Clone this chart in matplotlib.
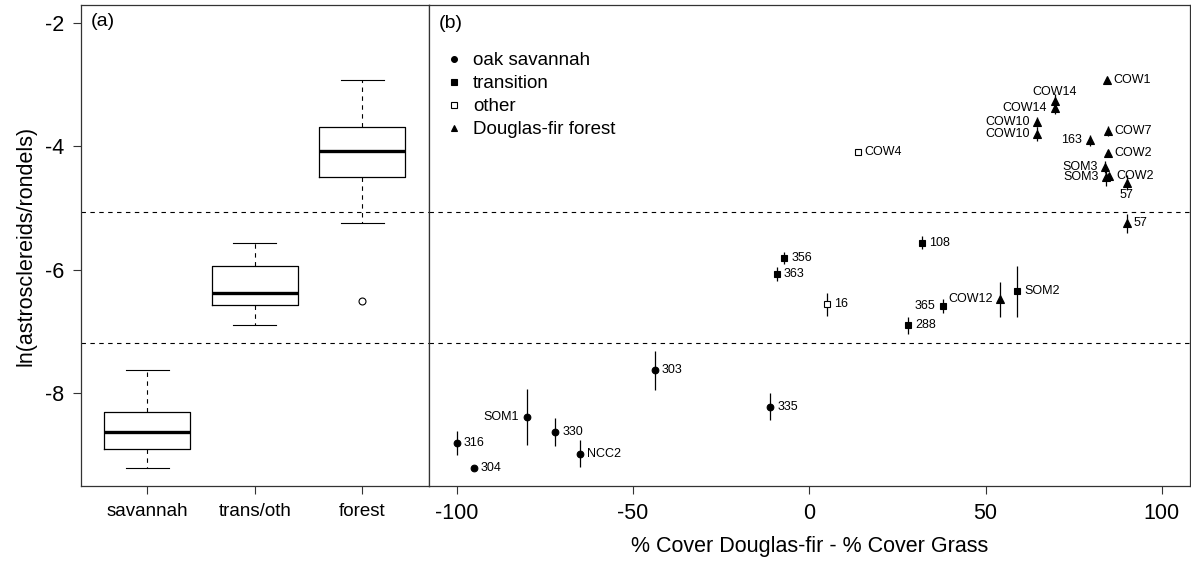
import numpy as np
import matplotlib
matplotlib.use('Agg')
import matplotlib.pyplot as plt
from matplotlib.lines import Line2D

plt.rcParams['font.family'] = ['Liberation Sans', 'DejaVu Sans']

# ---- panel (a): box summaries per vegetation class
groups = ['savannah', 'trans/oth', 'forest']
whislo = [-9.22, -6.89, -5.24]
q1 = [-8.90, -6.57, -4.50]
med = [-8.63, -6.37, -4.07]
q3 = [-8.30, -5.94, -3.69]
whishi = [-7.62, -5.56, -2.93]
fliers = [[], [], [-6.50]]

# class cut-offs (dashed lines)
cut_hi = -5.06
cut_lo = -7.18

# ---- panel (b): site means +/- error
site = ['316', '304', 'SOM1', '330', 'NCC2', '303', '335',
        '356', '363', '108', '288', '365', 'SOM2',
        '16', 'COW4',
        'COW12', 'COW1', 'COW14', 'COW14', 'COW10', 'COW10', '163', 'COW7',
        'COW2', 'SOM3', 'SOM3', 'COW2', '57', '57']
cover = [-100.1, -95.2, -80.1, -72.1, -65.0, -43.9, -11.1,
         -7.1, -9.2, 31.9, 28.1, 38.0, 59.0,
         5.0, 13.7,
         54.1, 84.4, 69.7, 69.7, 64.6, 64.6, 79.6, 84.6,
         84.6, 84.0, 84.3, 85.0, 90.0, 90.0]
ratio = [-8.81, -9.22, -8.39, -8.63, -8.98, -7.63, -8.22,
         -5.81, -6.07, -5.56, -6.90, -6.59, -6.35,
         -6.56, -4.09,
         -6.48, -2.93, -3.26, -3.38, -3.60, -3.80, -3.90, -3.75,
         -4.11, -4.34, -4.50, -4.48, -4.59, -5.25]
err = [0.20, 0.0, 0.45, 0.23, 0.22, 0.32, 0.22,
       0.10, 0.11, 0.10, 0.14, 0.11, 0.41,
       0.19, 0.05,
       0.28, 0.03, 0.10, 0.10, 0.08, 0.12, 0.09, 0.08,
       0.05, 0.10, 0.15, 0.05, 0.12, 0.16]
veg = ['sav'] * 7 + ['trans'] * 6 + ['other'] * 2 + ['forest'] * 14
lab_pos = ['r', 'r', 'l', 'r', 'r', 'r', 'r',
           'r', 'r', 'r', 'r', 'l', 'r',
           'r', 'r',
           'l', 'r', 'a', 'l', 'l', 'l', 'l', 'r',
           'r', 'l', 'l', 'r', 'b', 'r']

veg_names = {'sav': 'oak savannah', 'trans': 'transition',
             'other': 'other', 'forest': 'Douglas-fir forest'}
veg_style = {'sav': dict(marker='o', mfc='black', ms=4.8),
             'trans': dict(marker='s', mfc='black', ms=4.8),
             'other': dict(marker='s', mfc='white', ms=4.8),
             'forest': dict(marker='^', mfc='black', ms=5.6)}

W, H = 1191, 563
fig = plt.figure(figsize=(W / 100, H / 100), dpi=100)
bot = 1 - 486.3 / H
hgt = 481.3 / H
ax1 = fig.add_axes([80.7 / W, bot, 348 / W, hgt])
ax2 = fig.add_axes([428.7 / W, bot, (1190 - 428.7) / W, hgt])

ylim = (-9.51, -1.71)
edge = '#333333'

# ---- (a)
stats = []
for i in range(3):
    stats.append(dict(whislo=whislo[i], q1=q1[i], med=med[i], q3=q3[i],
                      whishi=whishi[i], fliers=fliers[i]))
ax1.bxp(stats, positions=[1, 2, 3], widths=0.8, capwidths=0.4,
        boxprops=dict(color='black', lw=0.9),
        medianprops=dict(color='black', lw=2.4),
        whiskerprops=dict(color='black', lw=0.8, linestyle=(0, (4, 4))),
        capprops=dict(color='black', lw=0.8),
        flierprops=dict(marker='o', mfc='none', mec='black', ms=5, mew=0.8))
ax1.set_xlim(0.38, 3.62)
ax1.set_ylim(*ylim)
ax1.set_xticks([1, 2, 3])
ax1.set_xticklabels(groups, fontsize=13.5)
ax1.set_yticks([-2, -4, -6, -8])
ax1.set_yticklabels(['-2', '-4', '-6', '-8'], fontsize=15.5)
ax1.tick_params(axis='x', length=6, width=0.8, color=edge, pad=6)
ax1.tick_params(axis='y', length=6, width=0.8, color=edge, pad=6)
ax1.set_ylabel('ln(astrosclereids/rondels)', fontsize=15.5, labelpad=6)
ax1.text(0.029, 0.965, '(a)', transform=ax1.transAxes, fontsize=14,
         ha='left', va='center')

# ---- (b)
cover = np.array(cover)
ratio = np.array(ratio)
err = np.array(err)
veg = np.array(veg)
for key in ['sav', 'trans', 'other', 'forest']:
    m = veg == key
    st = veg_style[key]
    ax2.errorbar(cover[m], ratio[m], yerr=err[m], fmt='none',
                 ecolor='black', elinewidth=0.9, capsize=0, zorder=2)
    ax2.plot(cover[m], ratio[m], linestyle='none', marker=st['marker'],
             mfc=st['mfc'], mec='black', ms=st['ms'], mew=0.8, zorder=3)

offs = {'r': ((5, 0), 'left', 'center'), 'l': ((-5.5, 0), 'right', 'center'),
        'a': ((0, 6.5), 'center', 'center'), 'b': ((0, -9), 'center', 'center')}
for s, x, y, p in zip(site, cover, ratio, lab_pos):
    off, ha, va = offs[p]
    ax2.annotate(s, (x, y), xytext=off, textcoords='offset points',
                 ha=ha, va=va, fontsize=9)

ax2.set_xlim(-108, 108)
ax2.set_ylim(*ylim)
ax2.set_xticks([-100, -50, 0, 50, 100])
ax2.set_xticklabels(['-100', '-50', '0', '50', '100'], fontsize=15.5)
ax2.tick_params(axis='x', length=6, width=0.8, color=edge, pad=6)
ax2.tick_params(axis='y', left=False, labelleft=False)
ax2.set_xlabel('% Cover Douglas-fir - % Cover Grass', fontsize=15.5, labelpad=9)
ax2.text(0.0126, 0.962, '(b)', transform=ax2.transAxes, fontsize=14,
         ha='left', va='center')

handles = [Line2D([], [], linestyle='none', marker=veg_style[k]['marker'],
                  mfc=veg_style[k]['mfc'], mec='black', ms=4.2, mew=0.8)
           for k in ['sav', 'trans', 'other', 'forest']]
ax2.legend(handles, [veg_names[k] for k in ['sav', 'trans', 'other', 'forest']],
           loc='upper left', bbox_to_anchor=(0.024, 0.902), frameon=False,
           fontsize=13.5, handlelength=0.8, handletextpad=0.6,
           labelspacing=0.31, borderaxespad=0, borderpad=0)

for ax in (ax1, ax2):
    ax.axhline(cut_hi, color='black', lw=0.8, linestyle=(0, (4, 4)), zorder=1)
    ax.axhline(cut_lo, color='black', lw=0.8, linestyle=(0, (4, 4)), zorder=1)
    for sp in ax.spines.values():
        sp.set_color(edge)
        sp.set_linewidth(0.9)

fig.savefig('out.png', dpi=100)
